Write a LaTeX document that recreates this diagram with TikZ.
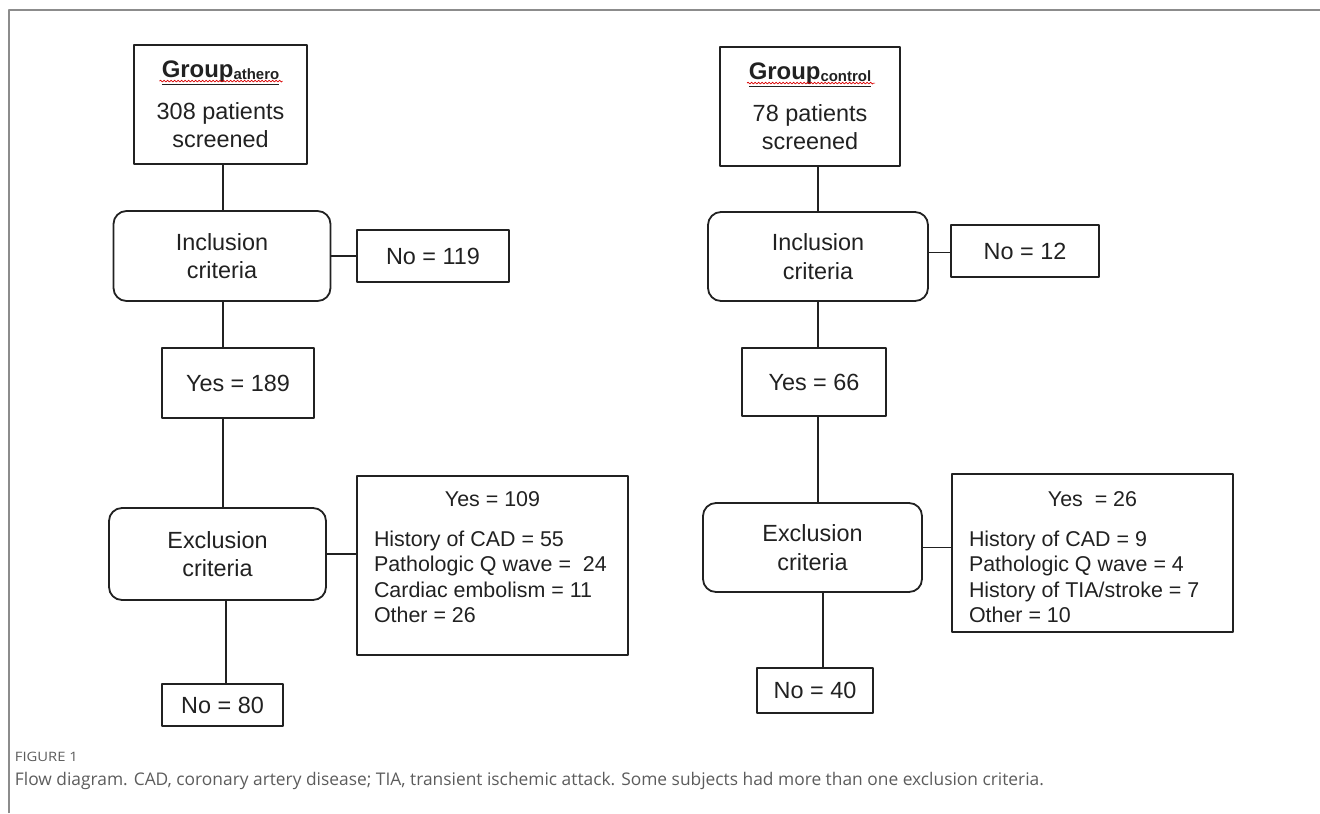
\documentclass[tikz,border=0pt]{standalone}
\usepackage{fontspec}
\usepackage{graphicx}
\setmainfont{Liberation Sans}
\newfontfamily\capfont{Open Sans}
\usetikzlibrary{decorations.pathmorphing}
\definecolor{framecol}{rgb}{0.55,0.55,0.55}
\definecolor{capcol}{rgb}{0.36,0.36,0.36}
\definecolor{inkcol}{rgb}{0.13,0.13,0.13}
\tikzset{
  box/.style={draw=inkcol, text=inkcol, align=center, inner sep=0pt,
    font=\fontsize{23.5}{28.5}\selectfont},
  roundbox/.style={box, rounded corners=13bp},
  listtext/.style={text=inkcol, align=left, inner sep=0pt,
    font=\fontsize{21.5}{25.5}\selectfont},
  edge/.style={draw=inkcol},
  spell/.style={draw=red!85!black, line width=0.7bp, decorate,
    decoration={snake, amplitude=0.9bp, segment length=3.5bp}},
}
\newcommand{\grouphead}[1]{\underline{{\fontsize{24}{26}\selectfont\bfseries Group}\raisebox{-2bp}{\fontsize{15}{17}\selectfont\bfseries #1}}}
\begin{document}
\begin{tikzpicture}[x=1bp,y=-1bp,line join=bevel]
  \pgfsetlinewidth{1.8bp}
  \useasboundingbox (0,0) rectangle (1320,813);
%%
  \draw[framecol] (9,813) -- (9,10) -- (1320,10);
  \coordinate (colA) at (223,0);
  \coordinate (colB) at (818,0);
  % Node: scrA
  \node[box, minimum width=173bp, minimum height=119bp] (scrA) at (220.5,104.5)
    {\grouphead{athero}\\[13bp]308 patients\\screened};
  \draw[spell] ([xshift=-61bp,yshift=-37bp]scrA.north) -- ++(123,0);
  % Node: incA
  \node[roundbox, minimum width=217bp, minimum height=90bp] (incA) at (222,256) {Inclusion\\criteria};
  % Node: noA
  \node[box, minimum width=152bp, minimum height=52bp] (noA) at (433,256) {No = 119};
  % Node: yesA
  \node[box, minimum width=152bp, minimum height=70bp] (yesA) at (238,383) {Yes = 189};
  % Node: excA
  \node[roundbox, minimum width=217bp, minimum height=92bp] (excA) at (217.5,554) {Exclusion\\criteria};
  % Node: exyA
  \node[box, minimum width=271bp, minimum height=179bp] (exyA) at (492.5,565.5) {};
  \node[listtext] (exyAt) at ([yshift=-24bp]exyA.north) {Yes = 109};
  \node[listtext, anchor=north west] (exyAl) at ([xshift=17bp,yshift=-55bp]exyA.north west)
    {History of CAD = 55\\Pathologic Q wave = \ 24\\Cardiac embolism = 11\\Other = 26};
  % Node: endA
  \node[box, minimum width=121bp, minimum height=42bp] (endA) at (222.5,705) {No = 80};
%
  % Node: scrB
  \node[box, minimum width=180bp, minimum height=119bp] (scrB) at (810,106.5)
    {\grouphead{control}\\[13bp]78 patients\\screened};
  \draw[spell] ([xshift=-63bp,yshift=-37bp]scrB.north) -- ++(128,0);
  % Node: incB
  \node[roundbox, minimum width=220bp, minimum height=89bp] (incB) at (818,256.5) {Inclusion\\criteria};
  % Node: noB
  \node[box, minimum width=148bp, minimum height=52bp] (noB) at (1025,251) {No = 12};
  % Node: yesB
  \node[box, minimum width=144bp, minimum height=68bp] (yesB) at (814,382) {Yes = 66};
  % Node: excB
  \node[roundbox, minimum width=219bp, minimum height=89bp] (excB) at (812.5,547.5) {Exclusion\\criteria};
  % Node: exyB
  \node[box, minimum width=281bp, minimum height=158bp] (exyB) at (1092.5,553) {};
  \node[listtext] (exyBt) at ([yshift=-26bp]exyB.north) {Yes \ = 26};
  \node[listtext, anchor=north west] (exyBl) at ([xshift=17bp,yshift=-57bp]exyB.north west)
    {History of CAD = 9\\Pathologic Q wave = 4\\History of TIA/stroke = 7\\Other = 10};
  % Node: endB
  \node[box, minimum width=116bp, minimum height=45bp] (endB) at (815,690.5) {No = 40};
%
  % Edge: scrA -> incA -> yesA -> excA -> endA
  \draw[edge] (colA |- scrA.south) -- (colA |- incA.north);
  \draw[edge] (colA |- incA.south) -- (colA |- yesA.north);
  \draw[edge] (colA |- yesA.south) -- (colA |- excA.north);
  \draw[edge] ([xshift=3bp]colA |- excA.south) -- ([xshift=3bp]colA |- endA.north);
  % Edge: incA -> noA, excA -> exyA
  \draw[edge] (incA.east) -- (incA.east -| noA.west);
  \draw[edge] (excA.east) -- (excA.east -| exyA.west);
  % Edge: scrB -> incB -> yesB -> excB -> endB
  \draw[edge] (colB |- scrB.south) -- (colB |- incB.north);
  \draw[edge] (colB |- incB.south) -- (colB |- yesB.north);
  \draw[edge] (colB |- yesB.south) -- (colB |- excB.north);
  \draw[edge] ([xshift=5bp]colB |- excB.south) -- ([xshift=5bp]colB |- endB.north);
  % Edge: incB -> noB, excB -> exyB
  \draw[edge] ([yshift=4bp]incB.east) -- ([yshift=4bp]incB.east -| noB.west);
  \draw[edge] (excB.east) -- (excB.east -| exyB.west);
%
  % Caption
  \node[anchor=west, inner sep=0pt, text=capcol] (figno) at (14,757)
    {\resizebox{63bp}{\height}{\capfont\fontsize{13}{15}\selectfont FIGURE 1}};
  \node[anchor=west, inner sep=0pt, text=capcol] (figcap) at (14,781)
    {\resizebox{1029bp}{\height}{\capfont\fontsize{17.5}{20}\selectfont Flow diagram. CAD, coronary artery disease; TIA, transient ischemic attack. Some subjects had more than one exclusion criteria.}};
\end{tikzpicture}
\end{document}
